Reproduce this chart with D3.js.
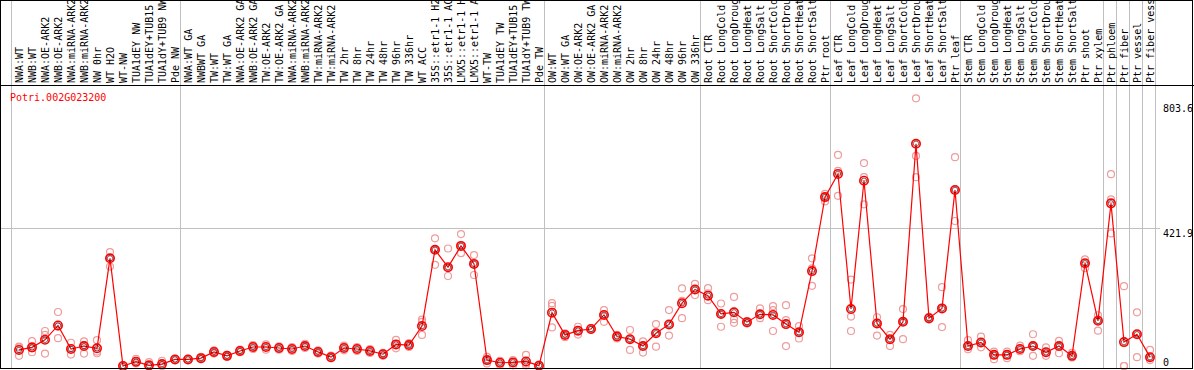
<!DOCTYPE html>
<html>
<head>
<meta charset="utf-8">
<script src="https://cdn.jsdelivr.net/npm/d3@7/dist/d3.min.js"></script>
<style>
  body { margin: 0; background: #fff; }
  svg { display: block; }
  text { font-family: "DejaVu Sans Mono", "Liberation Mono", monospace; font-size: 10px; }
</style>
</head>
<body>
<div id="chart"></div>
<script>
'use strict';

var gene = 'Potri.002G023200';

var samples = [
  'NWA:WT', 'NWB:WT', 'NWA:OE-ARK2', 'NWB:OE-ARK2', 'NWA:miRNA-ARK2', 'NWB:miRNA-ARK2',
  'NW 0hr', 'WT H2O', 'WT-NW', 'TUA1dEY NW', 'TUA1dEY+TUB15 NW', 'TUA1dY+TUB9 NW', 'Pde NW',
  'NWA:WT GA', 'NWBWT GA', 'TW:WT', 'TW:WT GA', 'NWA:OE-ARK2 GA', 'NWB:OE-ARK2 GA',
  'TW:OE-ARK2', 'TW:OE-ARK2 GA', 'NWA:miRNA-ARK2 GA', 'NWB:miRNA-ARK2 GA', 'TW:miRNA-ARK2',
  'TW:miRNA-ARK2 GA', 'TW 2hr', 'TW 8hr', 'TW 24hr', 'TW 48hr', 'TW 96hr', 'TW 336hr',
  'WT ACC', '35S::etr1-1 H2O', '35S::etr1-1 ACC', 'LMX5::etr1-1 H2O', 'LMX5::etr1-1 ACC',
  'WT-TW', 'TUA1dEY TW', 'TUA1dEY+TUB15 TW', 'TUA1dY+TUB9 TW', 'Pde TW',
  'OW:WT', 'OW:WT GA', 'OW:OE-ARK2', 'OW:OE-ARK2 GA', 'OW:miRNA-ARK2', 'OW:miRNA-ARK2 GA',
  'OW 2hr', 'OW 8hr', 'OW 24hr', 'OW 48hr', 'OW 96hr', 'OW 336hr',
  'Root CTR', 'Root LongCold', 'Root LongDrought', 'Root LongHeat', 'Root LongSalt',
  'Root ShortCold', 'Root ShortDrought', 'Root ShortHeat', 'Root ShortSalt', 'Ptr root',
  'Leaf CTR', 'Leaf LongCold', 'Leaf LongDrought', 'Leaf LongHeat', 'Leaf LongSalt',
  'Leaf ShortCold', 'Leaf ShortDrought', 'Leaf ShortHeat', 'Leaf ShortSalt', 'Ptr leaf',
  'Stem CTR', 'Stem LongCold', 'Stem LongDrought', 'Stem LongHeat', 'Stem LongSalt',
  'Stem ShortCold', 'Stem ShortDrought', 'Stem ShortHeat', 'Stem ShortSalt', 'Ptr shoot',
  'Ptr xylem', 'Ptr phloem', 'Ptr fiber', 'Ptr vessel', 'Ptr fiber vessel'
];

// index of the last sample in each group (-1 = left edge)
var groupEnds = [-1, 12, 40, 52, 62, 72, 83, 84, 85, 86, 87];

var means = [
  49, 57, 80, 124, 52, 61, 54, 329, 0, 13, 2, 6, 20,
  20, 24, 43, 31, 46, 58, 58, 55, 52, 61, 43, 27, 55, 52, 46, 36, 66, 64, 122,
  355, 302, 367, 312, 18, 10, 11, 14, 1,
  163, 95, 108, 113, 156, 90, 82, 61, 100, 127, 192, 234,
  215, 159, 164, 134, 158, 156, 128, 103, 290, 516,
  587, 174, 566, 130, 82, 135, 679, 146, 176, 538,
  61, 72, 34, 34, 52, 61, 42, 61, 31, 314, 138,
  497, 73, 97, 27
];

var rep1 = [
  59, 76, 107, 165, 71, 75, 79, 348, 2, 22, 12, 16, 22,
  22, 28, 48, 34, 50, 64, 66, 60, 58, 68, 48, 32, 62, 58, 52, 40, 80, 70, 142,
  390, 359, 403, 339, 28, 16, 18, 34, 4,
  192, 100, 120, 116, 171, 95, 110, 75, 128, 171, 237, 251,
  238, 191, 211, 137, 176, 183, 186, 122, 329, 526,
  645, 264, 620, 149, 95, 174, 818, 150, 241, 638,
  79, 90, 44, 44, 62, 97, 57, 77, 40, 326, 155,
  586, 244, 164, 49
];

var rep2 = [
  57, 54, 95, 120, 53, 64, 44, 330, 0, 13, 0, 2, 20,
  19, 24, 42, 30, 46, 58, 58, 55, 52, 60, 43, 27, 55, 52, 46, 36, 66, 64, 135,
  355, 301, 367, 312, 18, 10, 11, 7, 1,
  184, 95, 108, 113, 156, 90, 82, 61, 100, 127, 199, 234,
  222, 159, 143, 134, 158, 171, 140, 103, 298, 516,
  596, 151, 577, 130, 81, 135, 642, 146, 176, 538,
  61, 72, 33, 33, 52, 61, 42, 61, 31, 314, 140,
  509, 0, 97, 27
];

var rep3 = [
  31, 42, 38, 85, 35, 38, 39, 304, 1, 8, 0, 0, 19,
  20, 21, 38, 28, 42, 52, 50, 50, 46, 55, 38, 24, 48, 46, 40, 31, 54, 58, 95,
  309, 275, 345, 278, 8, 3, 2, 2, 0,
  118, 88, 96, 110, 135, 84, 49, 41, 59, 93, 146, 217,
  201, 120, 132, 130, 146, 107, 61, 84, 245, 503,
  520, 107, 494, 93, 61, 82, 577, 142, 119, 443,
  51, 57, 21, 24, 45, 31, 31, 39, 26, 299, 108,
  405, 0, 27, 18
];

var yTicks = [0, 421.9, 803.6];

var width = 1194, height = 370;
var frameBottom = 368, headerBottom = 85;

var svg = d3.select('#chart').append('svg')
  .attr('width', width)
  .attr('height', height);

var x = d3.scaleLinear().domain([0, samples.length - 1]).range([19, 1150]);
var y = d3.scaleLinear().domain([0, 803.6]).range([366, 103]);

// group separators
svg.append('g').selectAll('line').data(groupEnds).enter().append('line')
  .attr('x1', function(d){ return Math.round(x(d) + 5) + 0.5; })
  .attr('x2', function(d){ return Math.round(x(d) + 5) + 0.5; })
  .attr('y1', 0)
  .attr('y2', frameBottom)
  .attr('stroke', '#c0c0c0')
  .attr('stroke-width', 1);

// the middle grid line only
svg.append('line')
  .attr('x1', 0).attr('x2', 1160)
  .attr('y1', Math.round(y(421.9)) + 0.5)
  .attr('y2', Math.round(y(421.9)) + 0.5)
  .attr('stroke', '#c0c0c0');

// header labels, read bottom to top; long ones run past the top edge like the original
svg.append('defs').append('clipPath').attr('id', 'head')
  .append('rect').attr('x', 0).attr('y', 1).attr('width', width).attr('height', headerBottom);

svg.append('g').attr('clip-path', 'url(#head)')
  .selectAll('text').data(samples).enter().append('text')
  .attr('transform', function(d, i){ return 'translate(' + (x(i) + 3.5) + ',83) rotate(-90)'; })
  .attr('fill', '#000')
  .text(function(d){ return d; });

svg.append('line')
  .attr('x1', 0).attr('x2', width)
  .attr('y1', headerBottom + 0.5).attr('y2', headerBottom + 0.5)
  .attr('stroke', '#000');

svg.append('text')
  .attr('x', 10).attr('y', 101)
  .attr('fill', '#ff0000')
  .text(gene);

// y tick labels on the right
svg.append('g').selectAll('text').data(yTicks).enter().append('text')
  .attr('x', 1163)
  .attr('y', function(d){ return d === 0 ? y(d) : y(d) + 9; })
  .attr('fill', '#000')
  .text(function(d){ return d === 0 ? '0' : d3.format('.1f')(d); });

// replicates
var reps = [rep1, rep2, rep3];
var repG = svg.append('g');
reps.forEach(function(rep){
  repG.selectAll(null).data(rep).enter().append('circle')
    .attr('cx', function(d, i){ return x(i); })
    .attr('cy', function(d){ return y(d); })
    .attr('r', 3.5)
    .attr('fill', 'none')
    .attr('stroke', '#ef9c9c')
    .attr('stroke-width', 1.2);
});

// mean line
var line = d3.line()
  .x(function(d, i){ return x(i); })
  .y(function(d){ return y(d); });

svg.append('path')
  .datum(means)
  .attr('d', line)
  .attr('fill', 'none')
  .attr('stroke', '#ff0000')
  .attr('stroke-width', 1.2);

var meanG = svg.append('g').selectAll('g').data(means).enter().append('g')
  .attr('transform', function(d, i){ return 'translate(' + x(i) + ',' + y(d) + ')'; });
meanG.append('circle')
  .attr('r', 4.2)
  .attr('fill', 'none')
  .attr('stroke', '#ff0000')
  .attr('stroke-width', 1.6);
meanG.append('circle')
  .attr('r', 2.7)
  .attr('fill', 'none')
  .attr('stroke', '#200000')
  .attr('stroke-width', 0.6);

// frame
svg.append('rect')
  .attr('x', 0.5).attr('y', 0.5)
  .attr('width', 1192).attr('height', frameBottom)
  .attr('fill', 'none')
  .attr('stroke', '#000');
</script>
</body>
</html>
